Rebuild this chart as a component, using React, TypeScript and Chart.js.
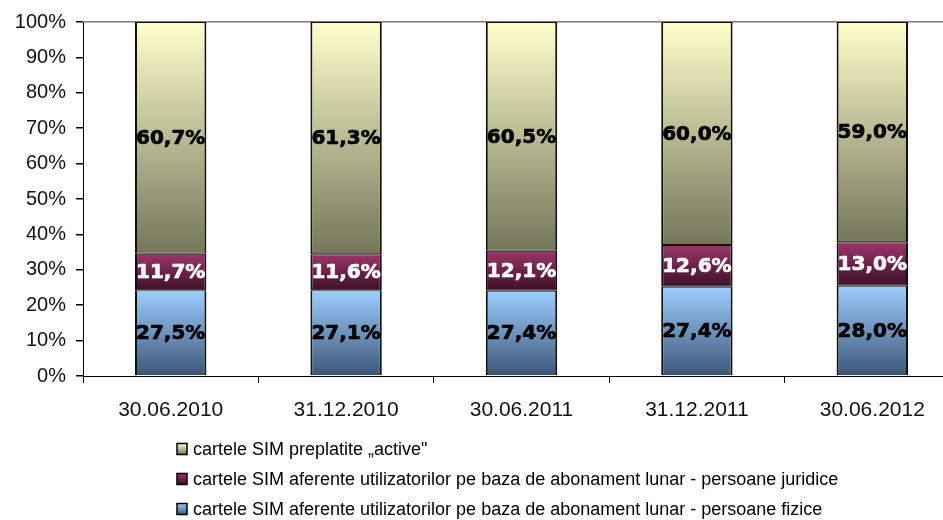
import { useEffect, useRef } from 'react';
import { Chart, registerables } from 'chart.js';

Chart.register(...registerables);

// ---- data ----
const categories = ['30.06.2010', '31.12.2010', '30.06.2011', '31.12.2011', '30.06.2012'];
// bar segment heights (as drawn, % of axis)
const fiziceValues = [24.2, 24.2, 24.1, 25.2, 25.5];
const juridiceValues = [10.3, 10.2, 11.3, 11.8, 12.3];
const preplatiteValues = [65.5, 65.6, 64.6, 63.0, 62.2];
// printed data labels
const fiziceLabels = ['27,5%', '27,1%', '27,4%', '27,4%', '28,0%'];
const juridiceLabels = ['11,7%', '11,6%', '12,1%', '12,6%', '13,0%'];
const preplatiteLabels = ['60,7%', '61,3%', '60,5%', '60,0%', '59,0%'];
const yTicks = [0, 10, 20, 30, 40, 50, 60, 70, 80, 90, 100];

const seriesNames = [
  'cartele SIM aferente utilizatorilor pe baza de abonament lunar - persoane fizice',
  'cartele SIM aferente utilizatorilor pe baza de abonament lunar - persoane juridice',
  'cartele SIM preplatite \u201Eactive"',
];

const allValues = [fiziceValues, juridiceValues, preplatiteValues];
const allLabels = [fiziceLabels, juridiceLabels, preplatiteLabels];
const gradStops = [
  ['#9DCEFF', '#3D5677'],
  ['#9C3569', '#3C1127'],
  ['#FFFFCD', '#75755A'],
];
const labelColors = ['#000000', '#FFFFFF', '#000000'];

function makeGradient(ctx: any, dsIndex: number) {
  const chart = ctx.chart;
  const area = chart.chartArea;
  const y = chart.scales && chart.scales.y;
  const stops = gradStops[dsIndex];
  if (!area || !y || ctx.dataIndex === undefined) return stops[0];
  let start = 0;
  for (let i = 0; i < dsIndex; i++) start += allValues[i][ctx.dataIndex];
  const end = start + allValues[dsIndex][ctx.dataIndex];
  const top = y.getPixelForValue(end);
  const bottom = y.getPixelForValue(start);
  const g = chart.ctx.createLinearGradient(0, top, 0, bottom);
  g.addColorStop(0, stops[0]);
  g.addColorStop(1, stops[1]);
  return g;
}

const labelPlugin = {
  id: 'segLabels',
  afterDatasetsDraw(chart: any) {
    const ctx = chart.ctx;
    ctx.save();
    ctx.font = 'bold 20px "DejaVu Sans"';
    ctx.textAlign = 'center';
    ctx.textBaseline = 'middle';
    ctx.lineWidth = 0.7;
    ctx.lineJoin = 'round';
    chart.data.datasets.forEach((ds: any, di: number) => {
      const meta = chart.getDatasetMeta(di);
      meta.data.forEach((el: any, i: number) => {
        const ty = (el.y + el.base) / 2 + 1;
        ctx.fillStyle = labelColors[di];
        ctx.strokeStyle = labelColors[di];
        ctx.fillText(allLabels[di][i], el.x, ty);
        ctx.strokeText(allLabels[di][i], el.x, ty);
      });
    });
    ctx.restore();
  },
};

const legendPlugin = {
  id: 'customLegend',
  afterDraw(chart: any) {
    const ctx = chart.ctx;
    const area = chart.chartArea;
    ctx.save();
    ctx.font = '18px "Liberation Sans"';
    ctx.textBaseline = 'middle';
    ctx.textAlign = 'left';
    const order = [2, 1, 0];
    order.forEach((di, row) => {
      const cy = area.bottom + 73 + row * 30;
      const bx = 177;
      const by = cy - 5.5;
      const g = ctx.createLinearGradient(0, by, 0, by + 11);
      g.addColorStop(0, gradStops[di][0]);
      g.addColorStop(1, gradStops[di][1]);
      ctx.fillStyle = g;
      ctx.fillRect(bx, by, 10, 11);
      ctx.strokeStyle = '#000';
      ctx.lineWidth = 1.5;
      ctx.strokeRect(bx, by, 10, 11);
      ctx.fillStyle = '#000';
      ctx.fillText(seriesNames[di], 193, cy + 1);
    });
    ctx.restore();
  },
};

export default function App() {
  const ref = useRef<HTMLCanvasElement>(null);
  useEffect(() => {
    if (!ref.current) return;
    const chart = new Chart(ref.current, {
      type: 'bar',
      data: {
        labels: categories,
        datasets: allValues.map((vals, di) => ({
          label: seriesNames[di],
          data: vals,
          backgroundColor: (ctx: any) => makeGradient(ctx, di),
          borderColor: '#111111',
          borderWidth: { left: 2, right: 2, top: 1, bottom: 1 },
          borderSkipped: false,
          barPercentage: 0.407,
          categoryPercentage: 1,
        })),
      },
      options: {
        responsive: false,
        animation: false,
        events: [],
        layout: { padding: { top: 20, left: 0, right: 0, bottom: 0 } },
        plugins: {
          legend: { display: false },
          tooltip: { enabled: false },
        },
        scales: {
          x: {
            stacked: true,
            offset: true,
            grid: {
              offset: true,
              color: 'rgba(0,0,0,0)',
              tickColor: '#000',
              tickLength: 7,
              drawTicks: true,
            },
            border: { display: true, color: '#000', width: 1 },
            ticks: {
              color: '#111',
              font: { family: 'Liberation Sans', size: 21 },
              padding: 15,
              maxRotation: 0,
            },
            afterFit(scale: any) {
              scale.height = 144;
            },
          },
          y: {
            stacked: true,
            min: 0,
            max: 100,
            afterBuildTicks(scale: any) {
              scale.ticks = yTicks.map((v) => ({ value: v }));
            },
            grid: {
              color: (c: any) => (c.tick && c.tick.value === 100 ? '#7a7a7a' : 'rgba(0,0,0,0)'),
              lineWidth: 1.5,
              tickColor: '#000',
              tickLength: 7,
            },
            border: { display: true, color: '#000', width: 1 },
            ticks: {
              color: '#111',
              font: { family: 'Liberation Sans', size: 20 },
              padding: 10,
              callback: (v: any) => v + '%',
            },
            afterFit(scale: any) {
              scale.width = 83;
            },
          },
        },
      },
      plugins: [labelPlugin, legendPlugin],
    });
    return () => chart.destroy();
  }, []);
  return (
    <div style={{ position: 'absolute', left: 0, top: 0, width: 943, height: 520, overflow: 'hidden', background: '#fff' }}>
      <canvas ref={ref} width={960} height={520} style={{ display: 'block' }} />
    </div>
  );
}
